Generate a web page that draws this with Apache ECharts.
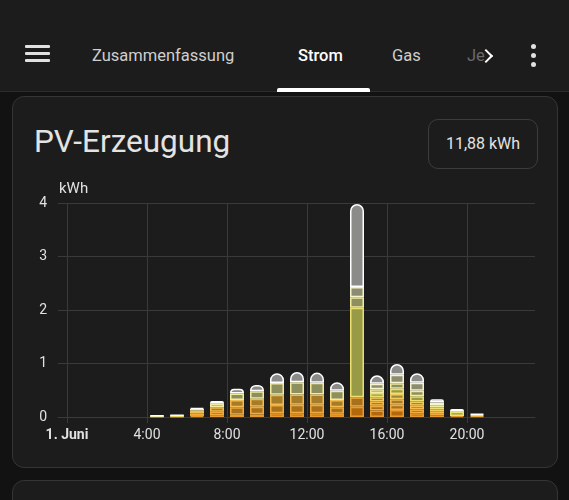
<!DOCTYPE html>
<html>
<head>
<meta charset="utf-8">
<script src="https://cdn.jsdelivr.net/npm/echarts@6/dist/echarts.min.js"></script>
<style>
  html, body { margin: 0; padding: 0; background: #121212; width: 569px; height: 500px; overflow: hidden; font-family: Roboto, "Noto Sans", sans-serif; }
  .abs { position: absolute; }
  #header { left: 0; top: 0; width: 569px; height: 91px; background: #1c1c1c; border-bottom: 1px solid #2c2c2c; }
  .burger { left: 25px; width: 25px; height: 3px; background: #e1e1e1; border-radius: 1px; }
  .tab { top: 45px; font-size: 16.5px; color: #cfcfcf; line-height: 22px; }
  #chev { left: 481px; top: 51px; width: 8px; height: 8px; border-top: 2px solid #fff; border-right: 2px solid #fff; transform: rotate(45deg); }
  #underline { left: 277px; top: 88px; width: 93px; height: 4px; background: #fff; border-radius: 2px 2px 0 0; }
  .dot { left: 531px; width: 5px; height: 5px; border-radius: 50%; background: #e1e1e1; }
  .card { left: 12px; width: 544px; background: #1c1c1c; border: 1px solid #353535; border-radius: 12px; }
  #title { left: 34px; top: 123px; font-size: 31.5px; color: #e3e3e3; line-height: 38px; }
  #chip { left: 428px; top: 119px; width: 108px; height: 48px; border: 1px solid #3c3c3c; border-radius: 10px; color: #e3e3e3; font-size: 16px; line-height: 48px; text-align: center; }
  #main { left: 0; top: 0; width: 569px; height: 500px; }
</style>
</head>
<body>
<div id="header" class="abs"></div>
<div class="abs burger" style="top:45px"></div>
<div class="abs burger" style="top:52px"></div>
<div class="abs burger" style="top:59px"></div>
<div class="abs tab" style="left:92px">Zusammenfassung</div>
<div class="abs tab" style="left:298px;color:#fff;font-weight:500">Strom</div>
<div class="abs tab" style="left:392px">Gas</div>
<div class="abs tab" style="left:467px;color:#6a6a6a">Je</div>
<div id="chev" class="abs"></div>
<div id="underline" class="abs"></div>
<div class="abs dot" style="top:44px"></div>
<div class="abs dot" style="top:53px"></div>
<div class="abs dot" style="top:62px"></div>

<div class="abs card" style="top:96px;height:370px"></div>
<div class="abs card" style="top:480px;height:60px"></div>
<div id="title" class="abs">PV-Erzeugung</div>
<div id="chip" class="abs">11,88 kWh</div>
<div id="main" class="abs"></div>

<script>
// Stunden mit Erzeugung (Balken liegen mittig in der Stunde)
var hours = [4, 5, 6, 7, 8, 9, 10, 11, 12, 13, 14, 15, 16, 17, 18, 19, 20];

// kWh je Quelle, von unten nach oben gestapelt
var pv1 = [0.01, 0.01, 0.02, 0.03, 0.04, 0.05, 0.07, 0.07, 0.07, 0.06, 0.19, 0.12, 0.13, 0.07, 0.03, 0.02, 0.02];
var pv2 = [0, 0, 0.05, 0.07, 0.14, 0.14, 0.155, 0.16, 0.16, 0.12, 0.18, 0.09, 0.10, 0.07, 0.03, 0, 0];
var pv3 = [0, 0, 0.05, 0.08, 0.14, 0.15, 0.19, 0.19, 0.19, 0.14, 0, 0.08, 0.10, 0.07, 0.04, 0, 0];
var pv4 = [0, 0.01, 0, 0, 0, 0, 0, 0, 0, 0, 0, 0.08, 0.10, 0.08, 0.04, 0, 0];
var pv5 = [0.01, 0.01, 0, 0, 0, 0, 0, 0, 0, 0, 1.67, 0.08, 0.10, 0.10, 0.04, 0.08, 0.02];
var pv6 = [0, 0, 0.03, 0.07, 0.12, 0.14, 0.22, 0.23, 0.22, 0.17, 0.20, 0.07, 0.10, 0.10, 0.04, 0, 0];
var pv7 = [0, 0, 0, 0, 0, 0, 0, 0, 0, 0, 0.19, 0.10, 0.16, 0.15, 0.05, 0, 0];
var pv8 = [0.01, 0.01, 0.02, 0.05, 0.09, 0.12, 0.185, 0.19, 0.19, 0.16, 1.55, 0.16, 0.20, 0.18, 0.06, 0.05, 0.02];

var yTicks = [0, 1, 2, 3, 4];
var dayLabel = '1. Juni';

var sources = [pv1, pv2, pv3, pv4, pv5, pv6, pv7, pv8];
var fills = ['#b4680e', '#a9701c', '#a47c2a', '#9c8a3a', '#999a46', '#8e8f5e', '#8c8c72', '#8b8b89'];
var borders = ['#e89a2c', '#f0aa3e', '#f4bc4e', '#f4cc5e', '#ece070', '#f2eca0', '#f6f4cc', '#ffffff'];

var gridCol = '#3a3a3a';
var HOUR = 3600 * 1000;
var day0 = new Date(2023, 5, 1).getTime();
var barW = 14;
var gridLeft = 58, gridRight = 34;

// sichtbarer Bereich -0,45 h .. 23,4 h; ECharts verbreitert eine Zeitachse mit Balken
// um die halbe Balkenbreite je Seite, daher vorab entsprechend enger setzen
var axisLen = 569 - gridLeft - gridRight;
var viewMin = -0.45, viewMax = 23.4;
var pad = (viewMax - viewMin) * (barW / axisLen) / 2;
var xMin = day0 + (viewMin + pad) * HOUR;
var xMax = day0 + (viewMax - pad) * HOUR;

// oberste Quelle je Stunde bekommt die runde Kappe
var topIdx = hours.map(function (h, j) {
    var t = 0;
    sources.forEach(function (s, i) { if (s[j] > 0) t = i; });
    return t;
});

var series = sources.map(function (src, i) {
    return {
        type: 'bar',
        stack: 'pv',
        barWidth: barW,
        silent: true,
        itemStyle: { color: fills[i], borderColor: borders[i], borderWidth: 1.5 },
        data: src.map(function (v, j) {
            var item = { value: [day0 + (hours[j] + 0.5) * HOUR, v] };
            if (v <= 0) item.itemStyle = { borderWidth: 0 };
            else if (topIdx[j] === i) item.itemStyle = { borderRadius: [7, 7, 0, 0] };
            return item;
        })
    };
});

var myChart = echarts.init(document.getElementById('main'));
myChart.setOption({
    animation: false,
    textStyle: { fontFamily: 'Roboto' },
    grid: { left: gridLeft, right: gridRight, top: 203, bottom: 83 },
    graphic: [{
        type: 'text', left: 59, top: 182,
        style: { text: 'kWh', fill: '#e1e1e1', font: '15px Roboto' }
    }],
    xAxis: {
        type: 'time',
        min: xMin,
        max: xMax,
        minInterval: 4 * HOUR,
        maxInterval: 4 * HOUR,
        axisLine: { show: true, lineStyle: { color: gridCol } },
        axisTick: { show: true, length: 6, lineStyle: { color: gridCol } },
        splitLine: { show: true, showMinLine: false, showMaxLine: false, lineStyle: { color: gridCol } },
        axisLabel: {
            color: '#e1e1e1', fontSize: 14, margin: 11,
            showMinLabel: false,
            showMaxLabel: false,
            formatter: function (v) {
                var d = new Date(v);
                var h = d.getHours();
                if (d.getMinutes() !== 0 || h % 4 !== 0) return '';
                return h === 0 ? '{b|' + dayLabel + '}' : h + ':00';
            },
            rich: { b: { fontWeight: 'bold', fontSize: 14, color: '#e1e1e1' } }
        }
    },
    yAxis: {
        type: 'value',
        min: yTicks[0],
        max: yTicks[yTicks.length - 1],
        interval: 1,
        axisLine: { show: false },
        axisTick: { show: false },
        splitLine: { show: true, lineStyle: { color: gridCol } },
        axisLabel: { color: '#e1e1e1', fontSize: 14, margin: 11 }
    },
    series: series
});
</script>
</body>
</html>
